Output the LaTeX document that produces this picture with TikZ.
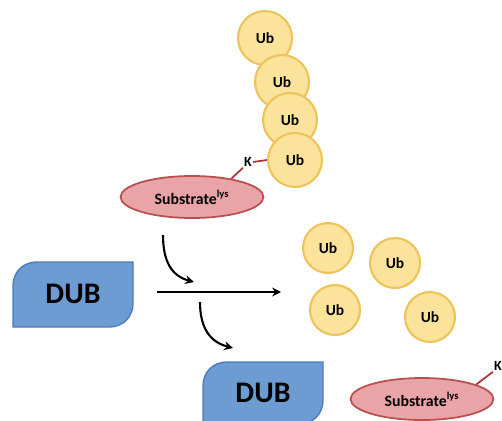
\documentclass[tikz,border=0pt]{standalone}
\usepackage{fontspec}
\setmainfont{Carlito}
\usepackage{tikz}
\usetikzlibrary{shapes.geometric, positioning, calc, arrows.meta}

\definecolor{ubfill}{HTML}{FBE39B}
\definecolor{ubdraw}{HTML}{EDC45C}
\definecolor{subfill}{HTML}{E8A4A7}
\definecolor{subdraw}{HTML}{B9504F}
\definecolor{klink}{HTML}{A8383A}
\definecolor{dubfill}{HTML}{6D9CD3}
\definecolor{dubdraw}{HTML}{4A7DBA}

\tikzset{
    ub/.style={circle, draw=ubdraw, fill=ubfill, line width=1.2pt, minimum size=1.08cm,
        inner sep=0pt, font=\fontsize{8.8}{10}\selectfont\bfseries},
    ubfree/.style={ub, minimum size=1.0cm},
    substrate/.style={ellipse, draw=subdraw, fill=subfill, line width=1pt, minimum width=2.86cm,
        minimum height=0.84cm, inner sep=0pt, font=\fontsize{9}{10}\selectfont\bfseries},
    lysk/.style={inner sep=0.5pt, font=\fontsize{8}{9}\selectfont\bfseries},
    klinkline/.style={draw=klink, line width=1pt},
    dubbox/.style={draw=dubdraw, fill=dubfill, line width=0.8pt},
    dubtext/.style={inner sep=0pt, font=\fontsize{17}{19}\selectfont\bfseries},
    react/.style={-{Stealth[length=5pt, width=5pt]}, line width=1.2pt},
}

\begin{document}
\begin{tikzpicture}[x=0.02cm, y=-0.02cm]
    \useasboundingbox (0,0) rectangle (502,420);

    % Poly-ubiquitin chain on the substrate lysine
    \node[ub] (ub1) at (265,38) {Ub};
    \node[ub] (ub2) at (282,82) {Ub};
    \node[ub] (ub3) at (290,120) {Ub};
    \node[ub] (ub4) at (295,160) {Ub};

    % Substrate with its lysine
    \node[substrate] (sub) at (192,197) {Substrate\textsuperscript{lys}};
    \node[lysk] (k1) at (248,162) {K};
    \draw[klinkline] (k1.east) -- (ub4.west);
    \draw[klinkline] (k1.south west) -- (sub.25);

    % DUB enzyme before the reaction
    \draw[dubbox] (13,327) -- (13,286) .. controls (13,272) and (23,262) .. (37,262) -- (133,262)
        -- (133,303) .. controls (133,317) and (123,327) .. (109,327) -- cycle;
    \node[dubtext] (dub1) at (73,294) {DUB};

    % Reaction arrows
    \coordinate (r0) at (157,292);
    \coordinate (r1) at (281,292);
    \draw[react, line width=1.6pt] (r0) -- (r1);

    \coordinate (in0) at (163,235);
    \coordinate (in1) at (194,282);
    \draw[react] (in0) .. controls (163,262) and (172,276) .. (in1);

    \coordinate (out0) at (200,302);
    \coordinate (out1) at (233,348);
    \draw[react] (out0) .. controls (200,328) and (210,342) .. (out1);

    % Released free ubiquitins
    \node[ubfree] (ubA) at (328,248) {Ub};
    \node[ubfree] (ubB) at (395,263) {Ub};
    \node[ubfree] (ubC) at (335,310) {Ub};
    \node[ubfree] (ubD) at (430,317) {Ub};

    % DUB enzyme after the reaction
    \draw[dubbox] (203,426) -- (203,386) .. controls (203,372) and (213,362) .. (227,362) -- (323,362)
        -- (323,400) .. controls (323,414) and (313,424) .. (299,424) -- cycle;
    \node[dubtext] (dub2) at (263,393) {DUB};

    % Free substrate with its lysine
    \node[substrate] (sub2) at (422,399) {Substrate\textsuperscript{lys}};
    \node[lysk] (k2) at (498,366) {K};
    \draw[klinkline] (k2.south west) -- (sub2.15);

\end{tikzpicture}
\end{document}
